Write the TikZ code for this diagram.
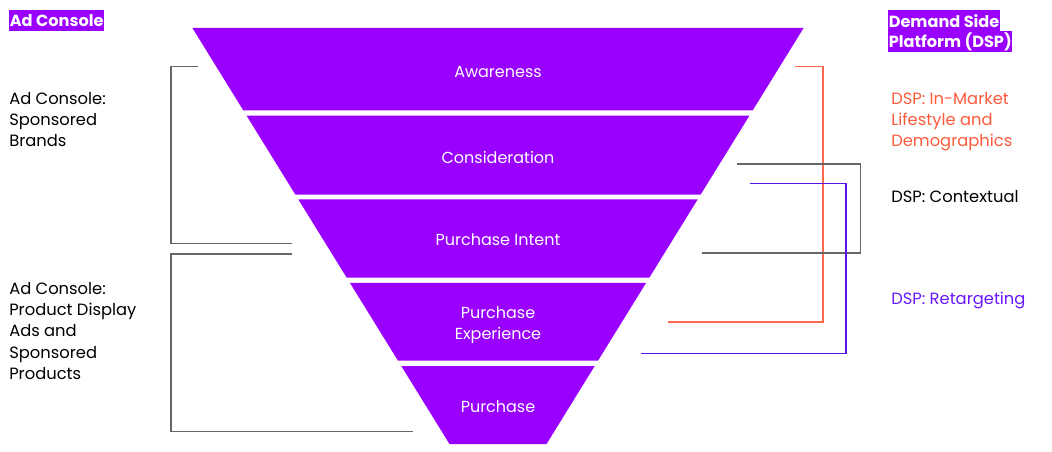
\documentclass[tikz,border=0pt]{standalone}
\usepackage{fontspec}
\setmainfont{Poppins}
\definecolor{funnel}{HTML}{9900FF}
\definecolor{dsporange}{HTML}{FF5A3C}
\definecolor{dspline}{HTML}{FF6A4C}
\definecolor{dspblue}{HTML}{6619FF}
\definecolor{dspbline}{HTML}{5A14E6}
\definecolor{brgray}{HTML}{666666}
\begin{document}
\begin{tikzpicture}[x=0.75pt,y=-0.75pt,
  band/.style={fill=funnel,draw=none},
  bandlabel/.style={text=white,font=\fontsize{12}{15.75}\selectfont,align=center,inner sep=0pt},
  sidetext/.style={font=\fontsize{12.25}{15.8}\selectfont,align=left,inner sep=0pt,anchor=west},
  hl/.style={fill=funnel,text=white,font=\fontsize{12.1}{15.75}\selectfont\bfseries,inner xsep=0.4pt,inner ysep=0pt,minimum height=15.75pt,anchor=north west},
  brk/.style={draw=brgray,line width=0.9pt},
  brko/.style={draw=dspline,line width=0.9pt},
  brkb/.style={draw=dspbline,line width=0.9pt}]
\useasboundingbox (0,0) rectangle (1052,452);
% funnel bands: half width = 305.6 - 0.618*(y-28)
\foreach \t/\b [count=\i] in {28/110.5,115.6/194.6,199.3/277.6,282.8/360.7,366/444}{
  \fill[band] ({498-305.6+0.618*(\t-28)},\t) -- ({498+305.6-0.618*(\t-28)},\t)
    -- ({498+305.6-0.618*(\b-28)},\b) -- ({498-305.6+0.618*(\b-28)},\b) -- cycle;
}
\node[bandlabel] (aw) at (498,72) {Awareness};
\node[bandlabel] (co) at (498,157) {Consideration};
\node[bandlabel] (pi) at (498,240) {Purchase Intent};
\node[bandlabel] (pe) at (498,325.5) {Purchase\\Experience};
\node[bandlabel] (pu) at (498,407) {Purchase};
% headers
\node[hl] (hac) at (9,10) {Ad Console};
\node[hl] (hd1) at (888,10) {Demand Side};
\node[hl] (hd2) at (888,31) {Platform (DSP)};
% side texts
\node[sidetext] (acsb) at (9,119.5) {Ad Console:\\Sponsored\\Brands};
\node[sidetext] (acpd) at (9,331) {Ad Console:\\Product Display\\Ads and\\Sponsored\\Products};
\node[sidetext,text=dsporange] (dim) at (891,122) {DSP: In-Market\\Lifestyle and\\Demographics};
\node[sidetext] (dctx) at (891,197) {DSP: Contextual};
\node[sidetext,text=dspblue] (dret) at (891,300) {DSP: Retargeting};
% brackets
\coordinate (l1a) at (198,66.5);
\coordinate (l1b) at (292,243.5);
\draw[brk] (l1a) -- (171,66.5) -- (171,243.5) -- (l1b);
\coordinate (l2a) at (292,254);
\coordinate (l2b) at (413,431.5);
\draw[brk] (l2a) -- (171,254) -- (171,431.5) -- (l2b);
\coordinate (roa) at (795,66.5);
\coordinate (rob) at (668,322);
\draw[brko] (roa) -- (823,66.5) -- (823,322) -- (rob);
\coordinate (rga) at (737,164);
\coordinate (rgb) at (702,253);
\draw[brk] (rga) -- (860.5,164) -- (860.5,253) -- (rgb);
\coordinate (rba) at (750,183.5);
\coordinate (rbb) at (641,353.5);
\draw[brkb] (rba) -- (846,183.5) -- (846,353.5) -- (rbb);
\end{tikzpicture}
\end{document}
